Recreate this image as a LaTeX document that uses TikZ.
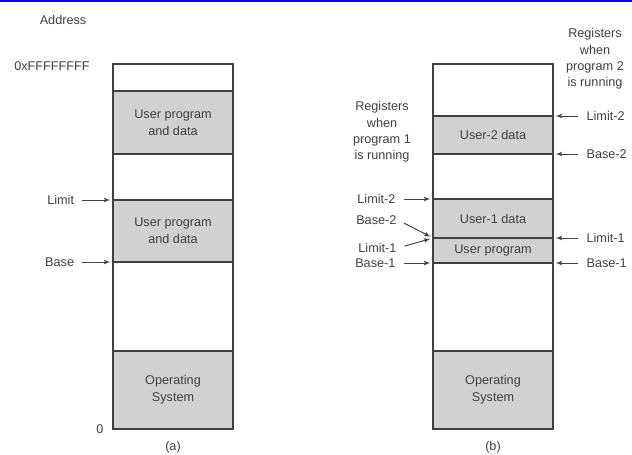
\documentclass[tikz,border=0pt]{standalone}
\usepackage{fontspec}
\setmainfont{Liberation Sans}
\usetikzlibrary{arrows, positioning}
\definecolor{ink}{gray}{0.25}
\definecolor{segfill}{gray}{0.82}
\tikzstyle{seg}=[draw=ink, line width=0.9pt, minimum width=90pt, inner sep=0pt, outer sep=0pt, align=center, text=ink, font=\fontsize{9.5}{12.5}\selectfont]
\tikzstyle{used}=[seg, fill=segfill]
\tikzstyle{lbl}=[inner sep=1pt, text=ink, align=center, font=\fontsize{9.5}{12.2}\selectfont]
\tikzstyle{ptr}=[->, line width=0.7pt, ink, shorten >=2pt, shorten <=5pt]

\begin{document}
\begin{tikzpicture}[x=0.75pt, y=-0.75pt, >=latex']
  \useasboundingbox (0,0) rectangle (632,454);
  \fill [blue] (0,0) rectangle (632,1.5);

  % (a) one program in memory
  \node [seg, minimum height=20.25pt, anchor=north] (a1) at (173,64) {};
  \node [used, minimum height=47.25pt, below=0pt of a1] (a2) {User program\\and data};
  \node [seg, minimum height=34.5pt, below=0pt of a2] (a3) {};
  \node [used, minimum height=46.5pt, below=0pt of a3] (a4) {User program\\and data};
  \node [seg, minimum height=66.75pt, below=0pt of a4] (a5) {};
  \node [used, minimum height=58.5pt, below=0pt of a5] (a6) {Operating\\System};

  \node [lbl] (addr) at (63,20) {Address};
  \node [lbl] (top) at (52,66) {0xFFFFFFFF};
  \node [lbl, left=6pt of a6.south west] (zero) {0};
  \node [lbl] (capa) at (173,447) {(a)};

  \node [lbl, left=28pt of a4.north west] (limit) {Limit};
  \node [lbl, left=28pt of a4.south west] (base) {Base};
  \draw [ptr] (limit) -- (a4.north west);
  \draw [ptr] (base) -- (a4.south west);

  % (b) two programs, shared code
  \node [seg, minimum height=39pt, anchor=north] (b1) at (493,64) {};
  \node [used, minimum height=28.5pt, below=0pt of b1] (b2) {User-2 data};
  \node [seg, minimum height=33.75pt, below=0pt of b2] (b3) {};
  \node [used, minimum height=29.25pt, below=0pt of b3] (b4) {User-1 data};
  \node [used, minimum height=18.75pt, below=0pt of b4] (b5) {User program};
  \node [seg, minimum height=66pt, below=0pt of b5] (b6) {};
  \node [used, minimum height=58.5pt, below=0pt of b6] (b7) {Operating\\System};

  \node [lbl] (capb) at (493,447) {(b)};

  \node [lbl] (run1) at (382,132) {Registers\\when\\program 1\\is running};
  \node [lbl] (run2) at (595,59) {Registers\\when\\program 2\\is running};

  % registers for program 1
  \node [lbl, left=27pt of b4.north west] (lim2a) {Limit-2};
  \node [lbl, anchor=east] (bas2a) at (398,220) {Base-2};
  \node [lbl, anchor=east] (lim1a) at (398,248) {Limit-1};
  \node [lbl, left=27pt of b5.south west] (bas1a) {Base-1};
  \draw [ptr] (lim2a) -- (b4.north west);
  \draw [ptr] (bas2a.east) -- (b5.north west);
  \draw [ptr] (lim1a.east) -- (b5.north west);
  \draw [ptr] (bas1a) -- (b5.south west);

  % registers for program 2
  \node [lbl, right=24pt of b2.north east] (lim2b) {Limit-2};
  \node [lbl, right=24pt of b2.south east] (bas2b) {Base-2};
  \node [lbl, right=24pt of b5.north east] (lim1b) {Limit-1};
  \node [lbl, right=24pt of b5.south east] (bas1b) {Base-1};
  \draw [ptr] (lim2b) -- (b2.north east);
  \draw [ptr] (bas2b) -- (b2.south east);
  \draw [ptr] (lim1b) -- (b5.north east);
  \draw [ptr] (bas1b) -- (b5.south east);
\end{tikzpicture}
\end{document}
